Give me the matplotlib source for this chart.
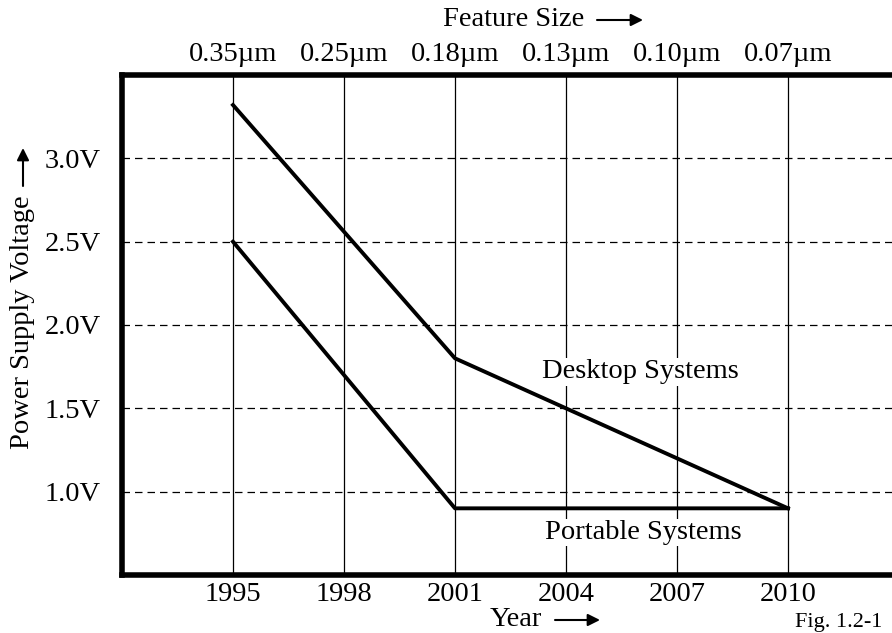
import matplotlib
matplotlib.use('Agg')
import matplotlib.pyplot as plt

years = [1995, 1998, 2001, 2004, 2007, 2010]
feature_sizes = ['0.35µm', '0.25µm', '0.18µm', '0.13µm', '0.10µm', '0.07µm']
volt_ticks = [1.0, 1.5, 2.0, 2.5, 3.0]
volt_labels = ['1.0V', '1.5V', '2.0V', '2.5V', '3.0V']

desktop_years = [1995, 2001, 2010]
desktop_volts = [3.32, 1.8, 0.9]
portable_years = [1995, 2001, 2010]
portable_volts = [2.5, 0.9, 0.9]

plt.rcParams['font.family'] = ['Liberation Serif', 'DejaVu Serif']
W, H = 892, 633
FS = 20.5


def fx(px):
    return px / W


def fy(py):
    return 1 - py / H


fig = plt.figure(figsize=(W / 100, H / 100), dpi=100)
ax = fig.add_axes([fx(122), fy(575), 777 / W, 500 / H])

ax.set_xlim(1992, 2013)
ax.set_ylim(0.5, 3.5)

# grid: solid verticals, dashed horizontals
for yr in years:
    ax.axvline(yr, color='k', lw=0.9, zorder=1)
for v in volt_ticks:
    ax.axhline(v, color='k', lw=0.9, ls=(0, (6, 4)), zorder=1)

ax.plot(desktop_years, desktop_volts, color='k', lw=2.8, zorder=3)
ax.plot(portable_years, portable_volts, color='k', lw=2.8, zorder=3)

box = dict(facecolor='white', edgecolor='none', pad=1)
ax.text(2006.0, 1.72, 'Desktop Systems', fontsize=FS, ha='center', va='center', bbox=box, zorder=4)
ax.text(2006.1, 0.755, 'Portable Systems', fontsize=FS, ha='center', va='center', bbox=box, zorder=4)

ax.set_xticks(years)
ax.set_xticklabels([str(y) for y in years])
ax.set_yticks(volt_ticks)
ax.set_yticklabels(volt_labels)
ax.tick_params(length=0, labelsize=FS)
ax.tick_params(axis='x', pad=5)
ax.tick_params(axis='y', pad=15)

for s in ax.spines.values():
    s.set_linewidth(4)
    s.set_color('k')

top = ax.twiny()
top.set_xlim(ax.get_xlim())
top.set_xticks(years)
top.set_xticklabels(feature_sizes)
top.tick_params(length=0, labelsize=FS, pad=6)
for s in top.spines.values():
    s.set_visible(False)

arrow = dict(arrowstyle='-|>', color='k', lw=1.5, mutation_scale=18, shrinkA=0, shrinkB=0)

fig.text(fx(443), fy(20), 'Feature Size', fontsize=FS, ha='left', va='center')
ax.annotate('', xy=(fx(643), fy(20)), xytext=(fx(597), fy(20)),
            xycoords='figure fraction', arrowprops=arrow)

fig.text(fx(490), fy(620), 'Year', fontsize=FS, ha='left', va='center')
ax.annotate('', xy=(fx(600), fy(620)), xytext=(fx(555), fy(620)),
            xycoords='figure fraction', arrowprops=arrow)

fig.text(fx(23), fy(322), 'Power Supply Voltage', fontsize=FS, rotation=90,
         ha='center', va='center')
ax.annotate('', xy=(fx(23), fy(148)), xytext=(fx(23), fy(186)),
            xycoords='figure fraction', arrowprops=arrow)

fig.text(fx(795), fy(622), 'Fig. 1.2-1', fontsize=16, ha='left', va='center')

fig.savefig('out.png', dpi=100)
